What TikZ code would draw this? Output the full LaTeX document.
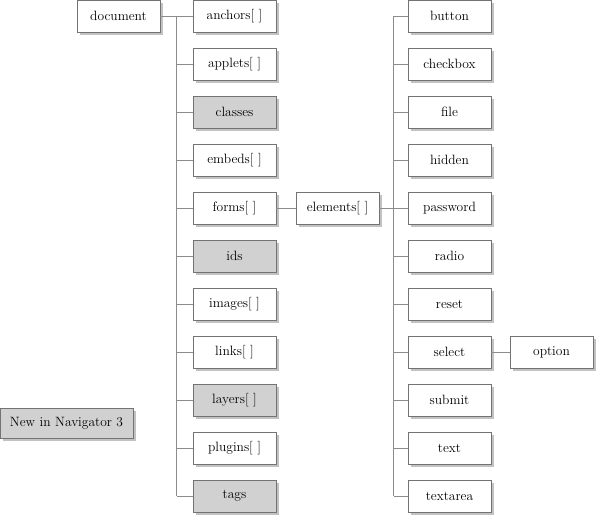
\documentclass[tikz,border=0pt]{standalone}
\usepackage{fontspec}
\usetikzlibrary{positioning,shadows}

\tikzset{
  box/.style={draw=black!55, fill=white, line width=0.8pt, outer sep=0pt, minimum width=83pt, minimum height=32pt,
    inner sep=2pt, font=\fontsize{13.5}{15}\selectfont,
    drop shadow={shadow xshift=2.5pt, shadow yshift=-2.5pt, fill=black!40, opacity=0.6}},
  newbox/.style={box, fill=black!18},
  link/.style={draw=black!45, line width=0.8pt}
}

\begin{document}
\begin{tikzpicture}[x=1pt, y=-1pt, node distance=16pt]
\useasboundingbox (0,0) rectangle (600,520);

% document und seine Eigenschaften
\node[box] (document) at (118.5,16) {document};
\node[box] (anchors) at (234.5,16) {anchors[ ]};
\node[box, below=of anchors] (applets) {applets[ ]};
\node[newbox, below=of applets] (classes) {classes};
\node[box, below=of classes] (embeds) {embeds[ ]};
\node[box, below=of embeds] (forms) {forms[ ]};
\node[newbox, below=of forms] (ids) {ids};
\node[box, below=of ids] (images) {images[ ]};
\node[box, below=of images] (links) {links[ ]};
\node[newbox, below=of links] (layers) {layers[ ]};
\node[box, below=of layers] (plugins) {plugins[ ]};
\node[newbox, below=of plugins] (tags) {tags};

% forms -> elements
\node[box] (elements) at (337.5,208) {elements[ ]};

% Elementtypen
\node[box] (button) at (449.5,16) {button};
\node[box, below=of button] (checkbox) {checkbox};
\node[box, below=of checkbox] (file) {file};
\node[box, below=of file] (hidden) {hidden};
\node[box, below=of hidden] (password) {password};
\node[box, below=of password] (radio) {radio};
\node[box, below=of radio] (reset) {reset};
\node[box, below=of reset] (select) {select};
\node[box, below=of select] (submit) {submit};
\node[box, below=of submit] (text) {text};
\node[box, below=of text] (textarea) {textarea};
\node[box] (option) at (551.5,352) {option};

% Legende
\node[newbox, minimum width=133pt, minimum height=30pt] (legend) at (66.5,423) {New in Navigator 3};

% Stammlinien
\coordinate (trunkA) at (176.5,16);
\coordinate (trunkB) at (393.5,208);

\draw[link] (document) -- (anchors);
\draw[link] (trunkA) -- (trunkA |- tags.west);
\foreach \prop in {applets,classes,embeds,forms,ids,images,links,layers,plugins,tags}
  \draw[link] (\prop.west) -- (\prop.west -| trunkA);

\draw[link] (forms) -- (elements);
\draw[link] (elements) -- (password);
\draw[link] (trunkB |- button.west) -- (trunkB |- textarea.west);
\foreach \kind in {button,checkbox,file,hidden,radio,reset,select,submit,text,textarea}
  \draw[link] (\kind.west) -- (\kind.west -| trunkB);
\draw[link] (select) -- (option);
\end{tikzpicture}
\end{document}
